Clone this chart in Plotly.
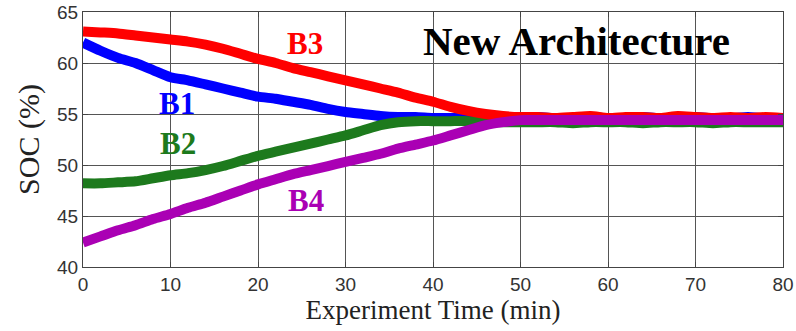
import plotly.graph_objects as go

# Experiment time axis (minutes)
time_min = list(range(0, 81, 2))

# State of charge of each battery (%)
soc_b1 = [62.0, 61.2, 60.5, 60.0, 59.3, 58.6, 58.3, 57.9, 57.5, 57.1,
          56.7, 56.5, 56.2, 55.9, 55.5, 55.2, 55.0, 54.8, 54.7, 54.7,
          54.6, 54.6, 54.6, 54.6, 54.6, 54.6, 54.7, 54.6, 54.6, 54.7,
          54.6, 54.6, 54.7, 54.6, 54.6, 54.7, 54.6, 54.6, 54.7, 54.6, 54.6]
soc_b2 = [48.2, 48.2, 48.3, 48.4, 48.7, 49.0, 49.2, 49.5, 49.9, 50.4,
          50.9, 51.3, 51.7, 52.1, 52.5, 52.9, 53.4, 53.9, 54.2, 54.3,
          54.3, 54.3, 54.3, 54.2, 54.2, 54.2, 54.2, 54.2, 54.1, 54.2,
          54.2, 54.2, 54.1, 54.2, 54.2, 54.2, 54.1, 54.2, 54.2, 54.2, 54.2]
soc_b3 = [63.1, 63.0, 62.9, 62.7, 62.5, 62.3, 62.1, 61.8, 61.4, 60.9,
          60.4, 60.0, 59.5, 59.1, 58.7, 58.3, 57.9, 57.5, 57.1, 56.6,
          56.2, 55.7, 55.3, 55.0, 54.8, 54.7, 54.7, 54.6, 54.7, 54.8,
          54.6, 54.7, 54.7, 54.6, 54.8, 54.7, 54.6, 54.7, 54.6, 54.7, 54.6]
soc_b4 = [42.4, 43.0, 43.6, 44.1, 44.7, 45.2, 45.8, 46.3, 46.9, 47.5,
          48.1, 48.6, 49.1, 49.5, 49.9, 50.3, 50.7, 51.1, 51.6, 52.0,
          52.4, 52.9, 53.4, 53.9, 54.2, 54.4, 54.4, 54.4, 54.4, 54.4,
          54.4, 54.4, 54.4, 54.4, 54.4, 54.4, 54.4, 54.4, 54.4, 54.4, 54.4]

x_ticks = [0, 10, 20, 30, 40, 50, 60, 70, 80]
y_ticks = [40, 45, 50, 55, 60, 65]

COLORS = {"B1": "#0000ff", "B2": "#1d7a1d", "B3": "#ff0000", "B4": "#aa00b4"}

fig = go.Figure()

# drawing order: blue, green, red, purple (purple ends on top)
for name, soc in [("B1", soc_b1), ("B2", soc_b2), ("B3", soc_b3), ("B4", soc_b4)]:
    fig.add_trace(go.Scatter(
        x=time_min, y=soc, mode="lines", name=name,
        line=dict(color=COLORS[name], width=10, shape="spline", smoothing=0.6),
        showlegend=False,
    ))

# series labels
label_pos = {"B1": (10.7, 56.0), "B2": (10.9, 52.1), "B3": (25.4, 61.9), "B4": (25.5, 46.5)}
for name, (lx, ly) in label_pos.items():
    fig.add_annotation(
        x=lx, y=ly, text=f"<b>{name}</b>", showarrow=False,
        font=dict(family="Liberation Serif", size=31, color=COLORS[name]),
    )

fig.add_annotation(
    x=56.4, y=62.2, text="<b>New Architecture</b>", showarrow=False,
    font=dict(family="Liberation Serif", size=41, color="#000000"),
)

axis_common = dict(
    showgrid=True, gridcolor="#555555", gridwidth=1,
    showline=True, linecolor="#444444", linewidth=1, mirror="ticks",
    ticks="inside", ticklen=5, tickcolor="#444444",
    zeroline=False, automargin=False,
    tickfont=dict(family="Liberation Sans", size=19, color="#333333"),
)

fig.update_xaxes(
    range=[0, 80], tickvals=x_ticks, ticktext=[str(v) for v in x_ticks],
    title=dict(text="Experiment Time (min)", standoff=3,
               font=dict(family="Liberation Serif", size=27, color="#222222")),
    **axis_common,
)
fig.update_yaxes(
    range=[40, 65], tickvals=y_ticks, ticktext=[str(v) for v in y_ticks],
    title=dict(text="SOC (%)", standoff=8,
               font=dict(family="Liberation Serif", size=30, color="#222222")),
    **axis_common,
)

fig.update_layout(
    width=796, height=331,
    margin=dict(l=83, r=13, t=12, b=64),
    paper_bgcolor="white", plot_bgcolor="white",
)

fig.write_html("out.html")
